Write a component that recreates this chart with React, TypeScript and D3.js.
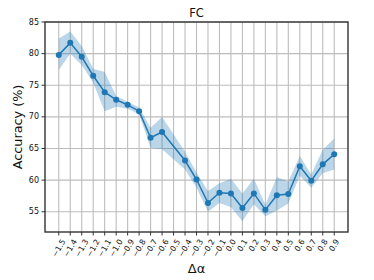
import React from "react";
import * as d3 from "d3";

const xTicks = [-1.5, -1.4, -1.3, -1.2, -1.1, -1.0, -0.9, -0.8, -0.7, -0.6, -0.5, -0.4, -0.3, -0.2, -0.1, 0.0, 0.1, 0.2, 0.3, 0.4, 0.5, 0.6, 0.7, 0.8, 0.9];
const xTickLabels = ["−1.5", "−1.4", "−1.3", "−1.2", "−1.1", "−1.0", "−0.9", "−0.8", "−0.7", "−0.6", "−0.5", "−0.4", "−0.3", "−0.2", "−0.1", "0.0", "0.1", "0.2", "0.3", "0.4", "0.5", "0.6", "0.7", "0.8", "0.9"];
const yTicks = [55, 60, 65, 70, 75, 80, 85];

const xValues = [-1.5, -1.4, -1.3, -1.2, -1.1, -1.0, -0.9, -0.8, -0.7, -0.6, -0.4, -0.3, -0.2, -0.1, 0.0, 0.1, 0.2, 0.3, 0.4, 0.5, 0.6, 0.7, 0.8, 0.9];
const meanAcc = [79.8, 81.7, 79.5, 76.5, 73.9, 72.7, 71.9, 70.9, 66.7, 67.6, 63.1, 60.1, 56.4, 58.0, 57.9, 55.6, 57.9, 55.3, 57.6, 57.8, 62.2, 59.9, 62.5, 64.1];
const upperAcc = [82.4, 83.5, 81.2, 77.6, 77.1, 73.3, 72.4, 71.5, 68.3, 70.0, 64.5, 61.2, 58.3, 59.5, 60.2, 57.9, 60.2, 56.1, 60.5, 59.8, 63.8, 60.9, 64.8, 66.6];
const lowerAcc = [77.4, 80.0, 78.2, 75.4, 70.9, 71.6, 71.3, 70.4, 65.1, 64.9, 61.7, 58.8, 55.0, 56.4, 55.7, 53.5, 56.2, 54.3, 55.2, 56.3, 60.7, 58.8, 61.1, 61.7];

const W = 374;
const H = 280;
const M = { left: 45, right: 348, top: 22, bottom: 232 };
const FONT = "DejaVu Sans, sans-serif";
const BLUE = "#1f77b4";

const charW: Record<string, number> = { "−": 0.838, ".": 0.318 };
const textWidth = (s: string, size: number) =>
  s.split("").reduce((a, c) => a + (charW[c] ?? 0.636), 0) * size;

export default function App() {
  const x = d3.scaleLinear().domain([-1.62, 1.02]).range([M.left, M.right]);
  const y = d3.scaleLinear().domain([51.8, 85]).range([M.bottom, M.top]);

  const pts = xValues.map((v, i) => ({ x: v, m: meanAcc[i], lo: lowerAcc[i], hi: upperAcc[i] }));
  const area = d3
    .area<(typeof pts)[0]>()
    .x((d) => x(d.x))
    .y0((d) => y(d.lo))
    .y1((d) => y(d.hi));
  const line = d3
    .line<(typeof pts)[0]>()
    .x((d) => x(d.x))
    .y((d) => y(d.m));

  const xFont = 7.8;
  const ang = (60 * Math.PI) / 180;

  return (
    <svg width={W} height={H} style={{ position: "absolute", left: 0, top: 0, background: "#fff" }}>
      <rect x={0} y={0} width={W} height={H} fill="#fff" />
      {/* grid */}
      <g stroke="#bdbdbd" strokeWidth={1.1}>
        {xTicks.map((t) => (
          <line key={"gx" + t} x1={x(t)} x2={x(t)} y1={M.top} y2={M.bottom} />
        ))}
        {yTicks.map((t) => (
          <line key={"gy" + t} x1={M.left} x2={M.right} y1={y(t)} y2={y(t)} />
        ))}
      </g>
      {/* band */}
      <path d={area(pts) || ""} fill={BLUE} fillOpacity={0.3} stroke="none" />
      {/* line */}
      <path d={line(pts) || ""} fill="none" stroke={BLUE} strokeWidth={1.5} />
      {pts.map((d, i) => (
        <circle key={"p" + i} cx={x(d.x)} cy={y(d.m)} r={3} fill={BLUE} />
      ))}
      {/* spines */}
      <rect
        x={M.left}
        y={M.top}
        width={M.right - M.left}
        height={M.bottom - M.top}
        fill="none"
        stroke="#333"
        strokeWidth={1.4}
      />
      {/* y ticks */}
      {yTicks.map((t) => (
        <g key={"yt" + t}>
          <line x1={M.left - 3.5} x2={M.left} y1={y(t)} y2={y(t)} stroke="#333" strokeWidth={1} />
          <text
            x={M.left - 6}
            y={y(t)}
            textAnchor="end"
            dominantBaseline="central"
            fontFamily={FONT}
            fontSize={8}
            fill="#111"
          >
            {t}
          </text>
        </g>
      ))}
      {/* x ticks */}
      {xTicks.map((t, i) => {
        const lbl = xTickLabels[i];
        const L = textWidth(lbl, xFont);
        const h = xFont * 1.0;
        const bh = L * Math.sin(ang) + h * Math.cos(ang);
        const cx = x(t);
        const cy = M.bottom + 6 + bh / 2;
        return (
          <g key={"xt" + i}>
            <line x1={cx} x2={cx} y1={M.bottom} y2={M.bottom + 3.5} stroke="#333" strokeWidth={1} />
            <text
              transform={`translate(${cx},${cy}) rotate(-60)`}
              textAnchor="middle"
              dominantBaseline="central"
              fontFamily={FONT}
              fontSize={xFont}
              fill="#111"
            >
              {lbl}
            </text>
          </g>
        );
      })}
      {/* title */}
      <text x={(M.left + M.right) / 2} y={17.3} textAnchor="middle" fontFamily={FONT} fontSize={11.5} fill="#111">
        FC
      </text>
      {/* x label */}
      <text x={(M.left + M.right) / 2} y={273} textAnchor="middle" fontFamily={FONT} fontSize={13} fill="#111">
        Δα
      </text>
      {/* y label */}
      <text
        transform={`translate(17.5,${(M.top + M.bottom) / 2}) rotate(-90)`}
        textAnchor="middle"
        dominantBaseline="central"
        fontFamily={FONT}
        fontSize={12.8}
        fill="#111"
      >
        Accuracy (%)
      </text>
    </svg>
  );
}
